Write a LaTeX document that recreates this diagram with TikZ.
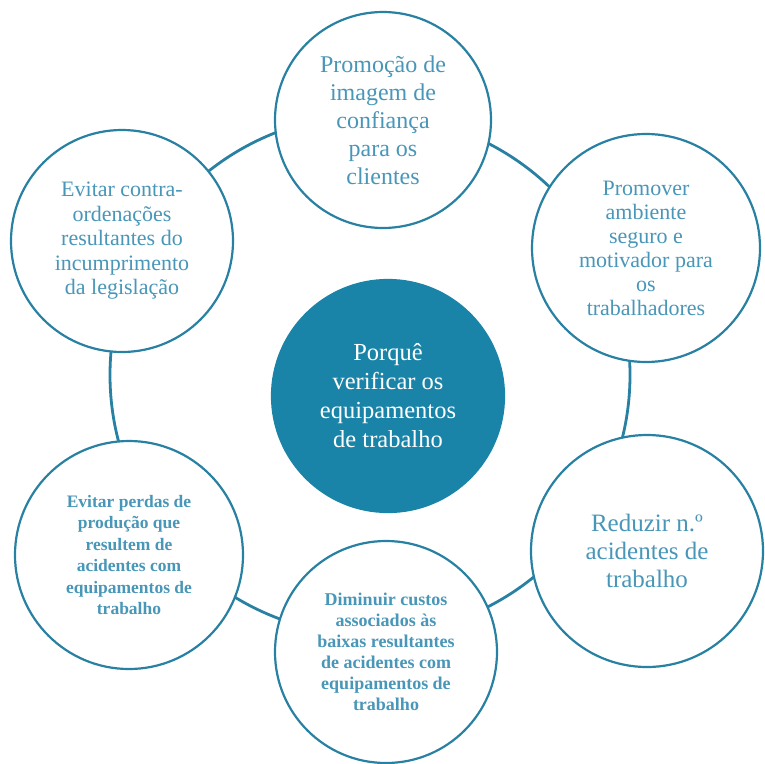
\documentclass[tikz,border=0pt]{standalone}
\usepackage{fontspec}
\setmainfont{Liberation Serif}
\definecolor{ringblue}{RGB}{40,128,162}
\definecolor{textblue}{RGB}{72,150,184}
\definecolor{hubblue}{RGB}{26,132,168}
\tikzset{
  goal/.style     = {shape=circle, draw=ringblue, line width=2.2pt,
                     fill=white, align=center, text=textblue,
                     inner sep=0pt},
  goalbold/.style = {goal, font=\bfseries},
  hub/.style      = {goal, fill=hubblue, draw=hubblue, text=white}
}

\begin{document}
\begin{tikzpicture}[x=1pt, y=-1pt]
  \useasboundingbox (0,0) rectangle (765,763);
  % ring behind the circles
  \coordinate (ringc) at (370,375);
  \draw [ringblue, line width=2.8pt] (ringc) circle [radius=260pt];

  \node [hub, minimum size=232pt, font=\fontsize{24.5}{29}\selectfont]
    (why) at (388,396) {Porquê\\verificar os\\equipamentos\\de trabalho};
  \node [goal, minimum size=216pt, font=\fontsize{24}{28}\selectfont]
    (image) at (383,120) {Promoção de\\imagem de\\confiança\\para os\\clientes};
  \node [goal, minimum size=228pt, font=\fontsize{22}{24}\selectfont]
    (safe) at (646,248) {Promover\\ambiente\\seguro e\\motivador para\\os\\trabalhadores};
  \node [goal, minimum size=222pt, font=\fontsize{22}{24.5}\selectfont]
    (law) at (122,241) {Evitar contra-\\ordenações\\resultantes do\\incumprimento\\da legislação};
  \node [goal, minimum size=232pt, font=\fontsize{25}{28}\selectfont]
    (accid) at (647,551) {Reduzir n.º\\acidentes de\\trabalho};
  \node [goalbold, minimum size=228pt, font=\fontsize{17.5}{21.5}\selectfont\bfseries]
    (loss) at (129,555) {Evitar perdas de\\produção que\\resultem de\\acidentes com\\equipamentos de\\trabalho};
  \node [goalbold, minimum size=222pt, font=\fontsize{18}{21}\selectfont\bfseries]
    (costs) at (386,652) {Diminuir custos\\associados às\\baixas resultantes\\de acidentes com\\equipamentos de\\trabalho};
\end{tikzpicture}
\end{document}
